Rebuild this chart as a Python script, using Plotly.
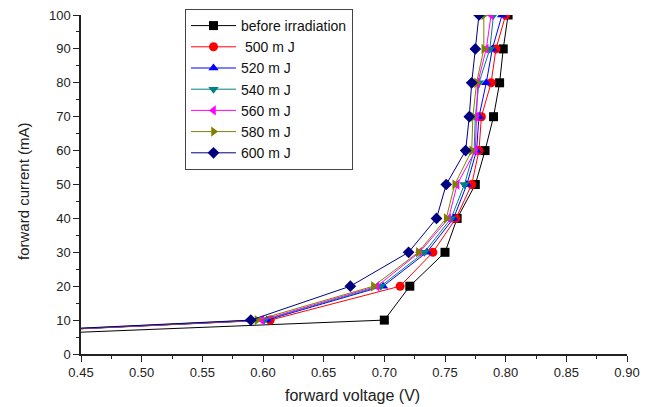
import plotly.graph_objects as go

current = [0, 10, 20, 30, 40, 50, 60, 70, 80, 90, 100]

names = ["before irradiation", " 500 m J", "520 m J", "540 m J", "560 m J", "580 m J", "600 m J"]

v_before = [0.0, 0.700, 0.721, 0.750, 0.760, 0.775, 0.783, 0.790, 0.795, 0.798, 0.802]
v_500 = [0.0, 0.606, 0.713, 0.740, 0.759, 0.772, 0.778, 0.780, 0.788, 0.792, 0.800]
v_520 = [0.0, 0.603, 0.699, 0.735, 0.757, 0.768, 0.776, 0.778, 0.784, 0.789, 0.797]
v_540 = [0.0, 0.601, 0.697, 0.733, 0.755, 0.766, 0.774, 0.775, 0.778, 0.787, 0.790]
v_560 = [0.0, 0.599, 0.694, 0.729, 0.753, 0.760, 0.775, 0.776, 0.777, 0.784, 0.788]
v_580 = [0.0, 0.595, 0.691, 0.728, 0.751, 0.758, 0.772, 0.773, 0.776, 0.782, 0.782]
v_600 = [0.0, 0.590, 0.672, 0.720, 0.743, 0.751, 0.767, 0.770, 0.772, 0.775, 0.778]

series = [v_before, v_500, v_520, v_540, v_560, v_580, v_600]
colors = ["#000000", "#FF0000", "#0000FF", "#008080", "#FF00FF", "#808000", "#000080"]
symbols = ["square", "circle", "triangle-up", "triangle-down", "triangle-left", "triangle-right", "diamond"]

x_ticks = [0.45, 0.50, 0.55, 0.60, 0.65, 0.70, 0.75, 0.80, 0.85, 0.90]
x_ticklabels = ["0.45", "0.50", "0.55", "0.60", "0.65", "0.70", "0.75", "0.80", "0.85", "0.90"]
y_ticks = [0, 10, 20, 30, 40, 50, 60, 70, 80, 90, 100]

x_title = "forward voltage (V)"
y_title = "forward current (mA)"

fig = go.Figure()
for name, v, c, s in zip(names, series, colors, symbols):
    fig.add_trace(go.Scatter(
        x=v, y=current, name=name, mode="lines+markers",
        line=dict(color=c, width=1),
        marker=dict(symbol=s, color=c, size=9, line=dict(width=0)),
        cliponaxis=True,
    ))

# page body has an 8px default margin, so the figure is sized/placed to compensate
font_family = "Liberation Sans, Arial, sans-serif"
fig.update_layout(
    width=647, height=399,
    margin=dict(l=73, r=28, t=7, b=53, autoexpand=False),
    paper_bgcolor="white", plot_bgcolor="white",
    font=dict(family=font_family, size=13, color="#222222"),
    showlegend=True,
    legend=dict(
        x=(185 - 81) / 546, y=(353 - 8) / 339, xanchor="left", yanchor="top",
        bordercolor="#444444", borderwidth=1, bgcolor="white",
        font=dict(family=font_family, size=14, color="#111111"),
        tracegroupgap=0, itemwidth=45,
    ),
    xaxis=dict(
        range=[0.45, 0.90], tickvals=x_ticks, ticktext=x_ticklabels,
        showgrid=False, zeroline=False, showline=True, linecolor="#222222", linewidth=1.5,
        ticks="outside", ticklen=6, tickcolor="#222222", ticklabeloverflow="allow",
        minor=dict(ticks="outside", ticklen=3, tickcolor="#222222", dtick=0.025, tick0=0.45),
        tickfont=dict(size=13, family=font_family),
    ),
    yaxis=dict(
        range=[0, 100], tickvals=y_ticks,
        showgrid=False, zeroline=False, showline=True, linecolor="#222222", linewidth=1.5,
        ticks="outside", ticklen=6, tickcolor="#222222", ticklabeloverflow="allow",
        minor=dict(ticks="outside", ticklen=3, tickcolor="#222222", dtick=5, tick0=0),
        tickfont=dict(size=13, family=font_family),
    ),
    annotations=[
        dict(text=x_title, xref="paper", yref="paper",
             x=(352 - 81) / 546, y=(353 - 394) / 339, xanchor="center", yanchor="middle",
             showarrow=False, font=dict(size=16, family=font_family, color="#222222")),
        dict(text=y_title, xref="paper", yref="paper", textangle=-90,
             x=(23 - 81) / 546, y=(353 - 190) / 339, xanchor="center", yanchor="middle",
             showarrow=False, font=dict(size=15, family=font_family, color="#222222")),
    ],
)

fig.write_html("out.html")
